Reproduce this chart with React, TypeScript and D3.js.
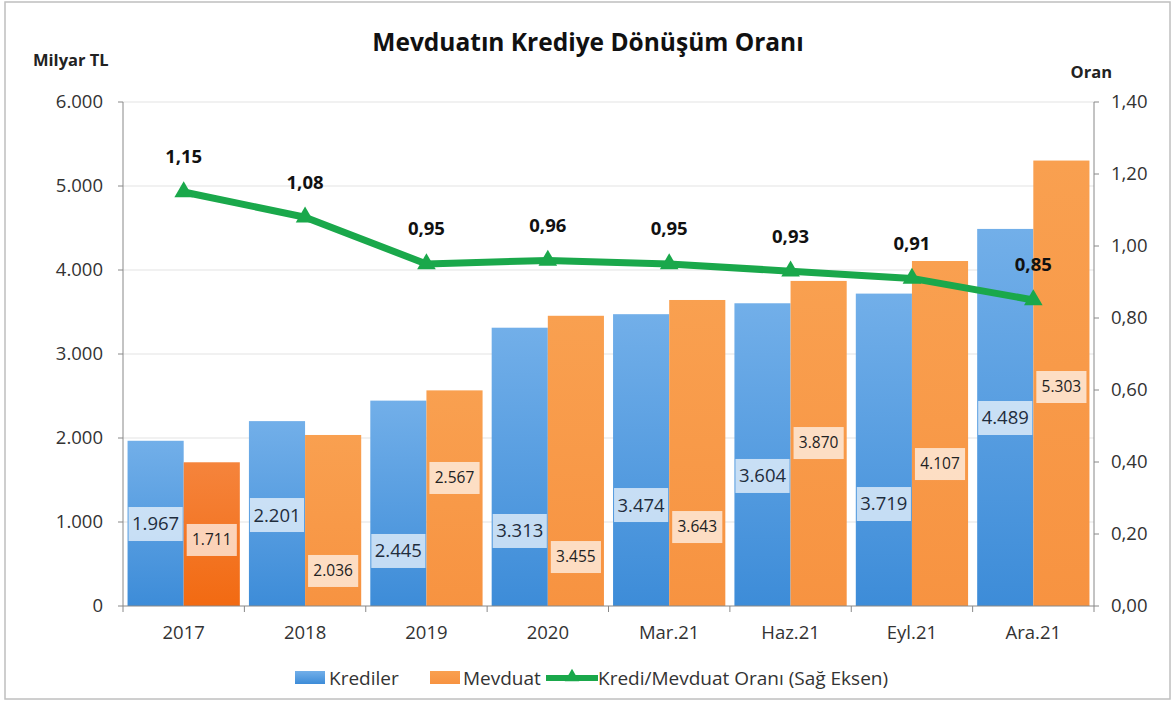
import React from "react";
import * as d3 from "d3";

const categories = ["2017", "2018", "2019", "2020", "Mar.21", "Haz.21", "Eyl.21", "Ara.21"];
const krediler = [1967, 2201, 2445, 3313, 3474, 3604, 3719, 4489];
const mevduat = [1711, 2036, 2567, 3455, 3643, 3870, 4107, 5303];
const oran = [1.15, 1.08, 0.95, 0.96, 0.95, 0.93, 0.91, 0.85];
// level (Milyar TL) at which each data label sits inside its bar
const kredilerLabelAt = [976, 1083, 655, 893, 1202, 1548, 1214, 2238];
const mevduatLabelAt = [786, 417, 1524, 583, 940, 1940, 1690, 2607];
const leftTicks = [0, 1000, 2000, 3000, 4000, 5000, 6000];
const rightTicks = [0, 0.2, 0.4, 0.6, 0.8, 1.0, 1.2, 1.4];

const W = 1172;
const H = 702;
const FONT = "'Open Sans', 'Noto Sans', sans-serif";

const fmtTL = (v: number) => d3.format(",")(v).replace(/,/g, ".");
const fmtOran = (v: number) => d3.format(".2f")(v).replace(".", ",");

export default function App() {
  const x0 = 123, x1 = 1094, yTop = 102, yBot = 606;
  const x = d3.scaleBand<string>().domain(categories).range([x0, x1]).paddingInner(0.075).paddingOuter(0.0375);
  const xs = d3.scaleBand<string>().domain(["Krediler", "Mevduat"]).range([0, x.bandwidth()]).padding(0);
  const yL = d3.scaleLinear().domain([0, 6000]).range([yBot, yTop]);
  const yR = d3.scaleLinear().domain([0, 1.4]).range([yBot, yTop]);
  const step = x.step();
  const cx = (c: string) => (x(c) as number) + x.bandwidth() / 2;
  const line = d3.line<number>().x((_, i) => cx(categories[i])).y((d) => yR(d));
  const tri = d3.symbol().type(d3.symbolTriangle).size(150)();
  const triSmall = d3.symbol().type(d3.symbolTriangle).size(90)();
  const bw = xs.bandwidth();

  return (
    <svg width={W} height={H} style={{ position: "absolute", left: 0, top: 0, background: "#fff" }} fontFamily={FONT}>
      <defs>
        <linearGradient id="gBlue" x1="0" y1="0" x2="0" y2="1">
          <stop offset="0" stopColor="#72AFE9" />
          <stop offset="1" stopColor="#3D8CD8" />
        </linearGradient>
        <linearGradient id="gOrange" x1="0" y1="0" x2="0" y2="1">
          <stop offset="0" stopColor="#F9A050" />
          <stop offset="1" stopColor="#F79341" />
        </linearGradient>
        <linearGradient id="gOrangeDark" x1="0" y1="0" x2="0" y2="1">
          <stop offset="0" stopColor="#F5843C" />
          <stop offset="1" stopColor="#F26A12" />
        </linearGradient>
      </defs>
      <rect x={5} y={2} width={1165} height={697} fill="#fff" stroke="#BFBFBF" strokeWidth={1.5} />

      {/* gridlines */}
      {leftTicks.filter((t) => t > 0).map((t) => (
        <line key={t} x1={x0} x2={x1} y1={yL(t)} y2={yL(t)} stroke="#E3E3E3" strokeWidth={1} />
      ))}

      {/* bars */}
      {categories.map((c, i) => (
        <g key={c}>
          <rect x={(x(c) as number) + (xs("Krediler") as number)} y={yL(krediler[i])} width={bw} height={yBot - yL(krediler[i])} fill="url(#gBlue)" />
          <rect x={(x(c) as number) + (xs("Mevduat") as number)} y={yL(mevduat[i])} width={bw} height={yBot - yL(mevduat[i])} fill={i === 0 ? "url(#gOrangeDark)" : "url(#gOrange)"} />
        </g>
      ))}

      {/* bar labels */}
      {categories.map((c, i) => {
        const kx = (x(c) as number) + (xs("Krediler") as number) + bw / 2;
        const mx = (x(c) as number) + (xs("Mevduat") as number) + bw / 2;
        const ky = yL(kredilerLabelAt[i]);
        const my = yL(mevduatLabelAt[i]);
        return (
          <g key={"l" + c}>
            <rect x={kx - bw / 2 + 1} y={ky - 17} width={bw - 2} height={34} fill="#fff" fillOpacity={0.68} />
            <text x={kx} y={ky} dy="0.35em" textAnchor="middle" fontSize={18.5} fill="#1F2D3D">{fmtTL(krediler[i])}</text>
            <rect x={mx - bw / 2 + 3} y={my - 16} width={bw - 6} height={32} fill="#fff" fillOpacity={0.68} />
            <text x={mx} y={my} dy="0.35em" textAnchor="middle" fontSize={15.5} fill="#222">{fmtTL(mevduat[i])}</text>
          </g>
        );
      })}

      {/* axes */}
      <line x1={x0} x2={x0} y1={yTop} y2={yBot} stroke="#888" />
      <line x1={x1} x2={x1} y1={yTop} y2={yBot} stroke="#888" />
      <line x1={x0} x2={x1} y1={yBot} y2={yBot} stroke="#888" />
      {leftTicks.map((t) => (
        <g key={"lt" + t}>
          <line x1={x0 - 5} x2={x0} y1={yL(t)} y2={yL(t)} stroke="#888" />
          <text x={x0 - 20} y={yL(t)} dy="0.35em" textAnchor="end" fontSize={18.5} fill="#333">{fmtTL(t)}</text>
        </g>
      ))}
      {rightTicks.map((t) => (
        <g key={"rt" + t}>
          <line x1={x1} x2={x1 + 5} y1={yR(t)} y2={yR(t)} stroke="#888" />
          <text x={x1 + 17} y={yR(t)} dy="0.35em" textAnchor="start" fontSize={18.5} fill="#333">{fmtOran(t)}</text>
        </g>
      ))}
      {d3.range(categories.length + 1).map((i) => (
        <line key={"xt" + i} x1={x0 + i * step} x2={x0 + i * step} y1={yBot} y2={yBot + 6} stroke="#888" />
      ))}
      {categories.map((c) => (
        <text key={"xl" + c} x={cx(c)} y={633} dy="0.35em" textAnchor="middle" fontSize={18.5} fill="#333">{c}</text>
      ))}

      {/* axis titles */}
      <text x={33} y={60} dy="0.35em" fontSize={16.5} fontWeight={700} fill="#222">Milyar TL</text>
      <text x={1112} y={72} dy="0.35em" textAnchor="end" fontSize={16.5} fontWeight={700} fill="#222">Oran</text>

      {/* title */}
      <text x={588} y={42} dy="0.35em" textAnchor="middle" fontSize={24.5} fontWeight={700} fill="#111">Mevduatın Krediye Dönüşüm Oranı</text>

      {/* ratio line */}
      <path d={line(oran) as string} fill="none" stroke="#1AA84B" strokeWidth={7} strokeLinejoin="round" />
      {oran.map((v, i) => (
        <path key={"m" + i} d={tri as string} transform={`translate(${cx(categories[i])},${yR(v)})`} fill="#1AA84B" />
      ))}
      {oran.map((v, i) => (
        <text key={"ol" + i} x={cx(categories[i])} y={yR(v) - 35} dy="0.35em" textAnchor="middle" fontSize={18.5} fontWeight={700} fill="#111">{fmtOran(v)}</text>
      ))}

      {/* legend */}
      <g fontSize={19} fill="#333">
        <rect x={295} y={671} width={30} height={13} fill="url(#gBlue)" />
        <text x={329} y={678} dy="0.35em">Krediler</text>
        <rect x={430} y={671} width={30} height={13} fill="url(#gOrange)" />
        <text x={463} y={678} dy="0.35em">Mevduat</text>
        <line x1={546} x2={598} y1={678} y2={678} stroke="#1AA84B" strokeWidth={6} />
        <path d={triSmall as string} transform="translate(572,677)" fill="#1AA84B" />
        <text x={598} y={678} dy="0.35em">Kredi/Mevduat Oranı (Sağ Eksen)</text>
      </g>
    </svg>
  );
}
